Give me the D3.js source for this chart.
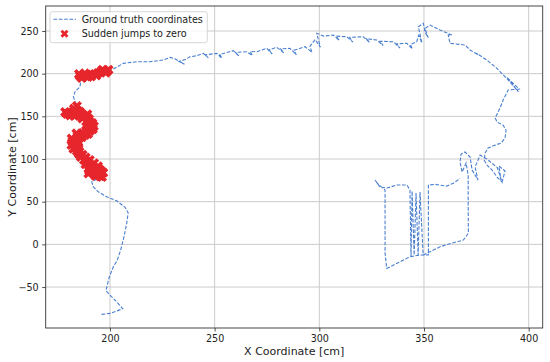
<!DOCTYPE html>
<html>
<head>
<meta charset="utf-8">
<script src="https://cdn.jsdelivr.net/npm/d3@7"></script>
<style>
  body { margin: 0; background: #fff; }
  svg { display: block; font-family: "DejaVu Sans", sans-serif; }
</style>
</head>
<body>
<svg width="550" height="362"></svg>
<script>
//Data
const xTicks = [200, 250, 300, 350, 400];
const yTicks = [-50, 0, 50, 100, 150, 200, 250];
const seriesNames = ["Ground truth coordinates", "Sudden jumps to zero"];
const axisTitles = ["X Coordinate [cm]", "Y Coordinate [cm]"];

// ground truth path [x, y] in cm
const groundTruth = [
    [196.0,-82.0],[200.0,-80.9],[206.1,-75.5],[203.2,-67.3],[200.0,-59.4],[198.1,-54.4],
    [198.7,-47.7],[199.7,-38.0],[201.6,-26.3],[203.5,-18.4],[205.1,-6.7],[206.7,8.9],
    [208.0,24.6],[208.7,37.0],[207.2,43.4],[203.2,51.1],[198.4,55.8],[194.4,61.6],
    [192.0,67.5],[191.3,73.4],[193.6,76.2],[197.6,79.2],[191.3,76.2],[193.8,84.7],
    [189.5,95.3],[184.7,108.2],[183.3,118.7],[185.7,124.6],[189.5,129.3],[190.9,137.5],
    [190.0,146.8],[186.6,151.5],[179.5,153.9],[183.8,155.0],[184.2,162.1],[182.5,173.0],
    [183.3,178.8],[185.7,184.7],[186.1,192.5],[184.7,197.2],[190.4,198.4],[194.3,200.8],
    [196.2,203.1],[200.0,204.3],[200.8,204.3],[206.4,212.1],[212.8,214.0],[219.1,214.0],
    [225.5,216.0],[228.7,219.1],[231.0,217.5],[235.6,211.0],[233.0,214.5],[236.0,216.5],
    [238.2,219.8],[241.5,221.0],[244.6,223.8],[247.0,218.5],[245.5,222.0],[251.0,223.8],
    [253.5,218.0],[252.5,222.5],[258.9,226.9],[261.5,221.0],[260.0,225.0],[265.3,225.7],
    [268.0,221.5],[267.0,226.0],[270.1,225.7],[274.9,229.7],[277.5,223.0],[276.0,228.0],
    [279.6,230.9],[283.0,224.5],[281.5,229.0],[286.0,229.7],[289.0,222.0],[288.0,227.5],
    [293.2,231.6],[296.5,225.0],[295.5,232.0],[298.0,240.0],[300.5,231.0],[299.0,245.0],
    [298.8,247.3],[302.0,244.0],[306.7,245.3],[309.5,239.0],[308.0,244.0],[313.1,243.3],
    [316.0,237.0],[314.5,242.5],[321.0,243.3],[324.0,236.5],[322.5,241.0],[327.4,239.4],
    [330.5,233.0],[329.0,238.0],[335.4,237.4],[338.5,230.0],[337.0,235.0],[341.8,235.6],
    [344.5,229.0],[343.5,234.0],[346.5,237.4],[347.5,245.0],[349.0,236.0],[347.3,255.0],
    [349.7,259.0],[350.5,249.0],[352.0,242.0],[350.5,253.0],[352.9,257.0],[357.7,251.1],
    [363.3,245.3],[361.6,245.3],[362.4,235.6],[369.6,233.6],[372.0,227.7],[376.0,222.0],
    [375.0,224.0],[380.0,216.0],[384.8,206.3],[389.5,194.5],[395.1,178.8],[389.5,196.0],
    [392.0,190.0],[395.5,182.0],[390.2,180.8],[387.8,169.1],[386.3,159.7],[384.0,148.0],
    [384.9,143.3],[387.8,139.6],[389.2,133.9],[388.7,124.6],[386.8,118.7],[384.0,116.3],
    [380.6,112.9],[379.2,107.0],[378.7,98.8],[380.1,92.9],[382.5,87.1],[384.9,78.9],
    [386.8,74.2],[385.8,91.8],[388.7,85.9],[387.3,73.0],[385.0,90.0],[380.0,100.0],
    [376.8,104.6],[374.4,90.6],[375.8,75.3],[373.0,87.1],[372.0,102.3],[369.6,108.2],
    [367.7,105.8],[367.2,96.4],[368.2,84.7],[370.1,95.3],[371.1,81.2],[371.1,48.4],
    [371.2,13.2],[368.8,5.0],[364.0,1.9],[357.7,-2.8],[351.3,-10.5],[349.6,-12.5],
    [348.1,61.3],[347.2,-12.5],[346.2,60.1],[345.3,-12.5],[344.3,62.5],[343.8,-13.7],
    [343.3,63.6],[341.9,69.5],[337.1,69.5],[332.3,66.0],[329.0,67.1],[326.6,75.4],
    [328.0,70.7],[331.4,63.6],[331.4,-10.2],[332.2,-28.1],[333.8,-26.3],[338.6,-20.4],
    [343.3,-14.5],[348.1,-12.5],[352.1,-12.5],[352.1,69.5],[355.3,70.3],[360.8,68.3],
    [364.0,71.5],[367.2,77.3]
];

// points where the estimate jumped to zero [x, y] in cm
const suddenJumps = [
    [193.8,84.7],[192.8,88.2],[191.9,90.6],[190.4,92.9],[189.0,96.4],[187.6,98.8],
    [186.1,102.3],[185.2,105.8],[184.2,109.3],[183.8,112.9],[183.3,116.4],[183.3,119.9],
    [183.8,122.2],[185.2,124.6],[186.6,125.7],[188.1,128.1],[189.5,129.3],[190.4,132.8],
    [190.9,136.3],[190.9,139.8],[190.4,143.3],[190.0,146.8],[189.0,149.2],[187.6,150.4],
    [186.1,151.5],[184.7,152.7],[183.3,153.9],[181.8,153.9],[180.4,153.9],[179.5,152.7],
    [184.2,157.4],[184.2,162.1],[195.2,80.0],[192.8,81.2],[194.7,88.2],[195.7,83.5],
    [191.4,84.7],[195.6,86.5],[193.2,80.2],[190.6,89.5],[188.3,94.0],[182.5,112.0],
    [182.0,120.5],[184.5,127.0],[187.0,130.5],[191.8,135.0],[191.6,142.0],[186.8,147.6],
    [183.0,150.5],[185.5,155.5],[182.6,156.0],
    [194.3,91.5],[192.4,95.0],[190.3,98.8],[188.4,101.6],[186.9,105.0],[185.4,108.6],
    [184.9,114.0],[185.0,118.0],[181.6,116.5],[181.7,124.0],[184.0,130.0],[188.6,133.5],
    [188.8,138.0],[188.7,144.0],[192.3,138.5],[189.2,152.5],[186.0,154.0],[181.0,151.0],
    [178.6,155.0],[182.8,159.0],[196.2,79.0],[196.8,84.0],[190.0,86.5],[189.7,83.0],
    [185.7,197.2],[187.1,197.8],[188.5,198.4],[190.0,198.4],[191.4,199.0],[192.8,199.6],
    [194.3,200.8],[195.7,202.5],[197.1,203.1],[198.6,203.1],[186.5,195.0],[189.5,196.3],
    [196.4,204.6],[198.0,201.2],[185.2,199.5],[188.0,200.3],[191.0,196.8],[193.5,198.0],
    [199.3,204.5]
];

//Setup
const svg_width = 550;
const svg_height = 362;
const margin = {top: 6, right: 7.3, bottom: 34, left: 45.7};
const lineColor = "#4a7fd0";
const jumpColor = "#e6262c";

let svg = d3.select("svg");

let xscale = d3.scaleLinear().domain([169.3, 406.7])
    .range([margin.left, svg_width - margin.right]);
let yscale = d3.scaleLinear().domain([-98, 279.3])
    .range([svg_height - margin.bottom, margin.top]);

//Grid
let grid = svg.append("g").attr("stroke", "#cbcbcb").attr("stroke-width", 1);
grid.selectAll(".gx").data(xTicks).enter().append("line")
    .attr("x1", d => xscale(d)).attr("x2", d => xscale(d))
    .attr("y1", margin.top).attr("y2", svg_height - margin.bottom);
grid.selectAll(".gy").data(yTicks).enter().append("line")
    .attr("y1", d => yscale(d)).attr("y2", d => yscale(d))
    .attr("x1", margin.left).attr("x2", svg_width - margin.right);

//Ground truth line
let line = d3.line().x(d => xscale(d[0])).y(d => yscale(d[1]));
svg.append("path")
    .datum(groundTruth)
    .attr("d", line)
    .attr("fill", "none")
    .attr("stroke", lineColor)
    .attr("stroke-width", 1.1)
    .attr("stroke-dasharray", "3.7,1.6");

//Jump markers (filled X)
let xmark = d3.symbol(d3.symbolCross, 64);
svg.append("g")
    .selectAll("path")
    .data(suddenJumps)
    .enter().append("path")
    .attr("d", xmark)
    .attr("transform", d => `translate(${xscale(d[0])},${yscale(d[1])}) rotate(45)`)
    .attr("fill", jumpColor);

//Axes
let xaxis = d3.axisBottom(xscale).tickValues(xTicks).tickSize(3.5).tickPadding(3.5);
let yaxis = d3.axisLeft(yscale).tickValues(yTicks).tickSize(3.5).tickPadding(3.5);

let gx = svg.append("g")
    .attr("transform", `translate(0, ${svg_height - margin.bottom})`)
    .call(xaxis);
let gy = svg.append("g")
    .attr("transform", `translate(${margin.left}, 0)`)
    .call(yaxis);

[gx, gy].forEach(g => {
    g.select(".domain").remove();
    g.selectAll(".tick line").attr("stroke", "#222").attr("stroke-width", 0.8);
    g.selectAll(".tick text")
        .attr("font-family", "DejaVu Sans")
        .attr("font-size", "9.6px")
        .attr("fill", "#222");
});
gy.selectAll(".tick text").text(d => d < 0 ? "\u2212" + Math.abs(d) : d);

//Frame
svg.append("rect")
    .attr("x", margin.left).attr("y", margin.top)
    .attr("width", svg_width - margin.left - margin.right)
    .attr("height", svg_height - margin.top - margin.bottom)
    .attr("fill", "none")
    .attr("stroke", "#333")
    .attr("stroke-width", 0.9);

//Labels
svg.append("text")
    .attr("text-anchor", "middle")
    .attr("x", (margin.left + svg_width - margin.right) / 2)
    .attr("y", 355)
    .attr("font-size", "11px")
    .attr("fill", "#222")
    .text(axisTitles[0]);

svg.append("text")
    .attr("text-anchor", "middle")
    .attr("transform", `translate(16, ${(margin.top + svg_height - margin.bottom) / 2}) rotate(-90)`)
    .attr("font-size", "11px")
    .attr("fill", "#222")
    .text(axisTitles[1]);

//Legend
let legendMark = d3.symbol(d3.symbolCross, 40);
let legend = svg.append("g");
legend.append("rect")
    .attr("x", 50).attr("y", 11.7)
    .attr("width", 157.3).attr("height", 31)
    .attr("rx", 2.5)
    .attr("fill", "white").attr("fill-opacity", 0.8)
    .attr("stroke", "#cccccc").attr("stroke-width", 0.8);
legend.append("line")
    .attr("x1", 53.5).attr("x2", 76).attr("y1", 19.3).attr("y2", 19.3)
    .attr("stroke", lineColor).attr("stroke-width", 1.1)
    .attr("stroke-dasharray", "3.7,1.6");
legend.append("path")
    .attr("d", legendMark)
    .attr("transform", "translate(64.5,33.7) rotate(45)")
    .attr("fill", jumpColor);
legend.selectAll("text")
    .data(seriesNames)
    .enter().append("text")
    .attr("x", 81.7)
    .attr("y", (d, i) => 19.3 + i * 14.4)
    .attr("dy", "0.35em")
    .attr("font-size", "9.6px")
    .attr("fill", "#222")
    .text(d => d);
</script>
</body>
</html>
